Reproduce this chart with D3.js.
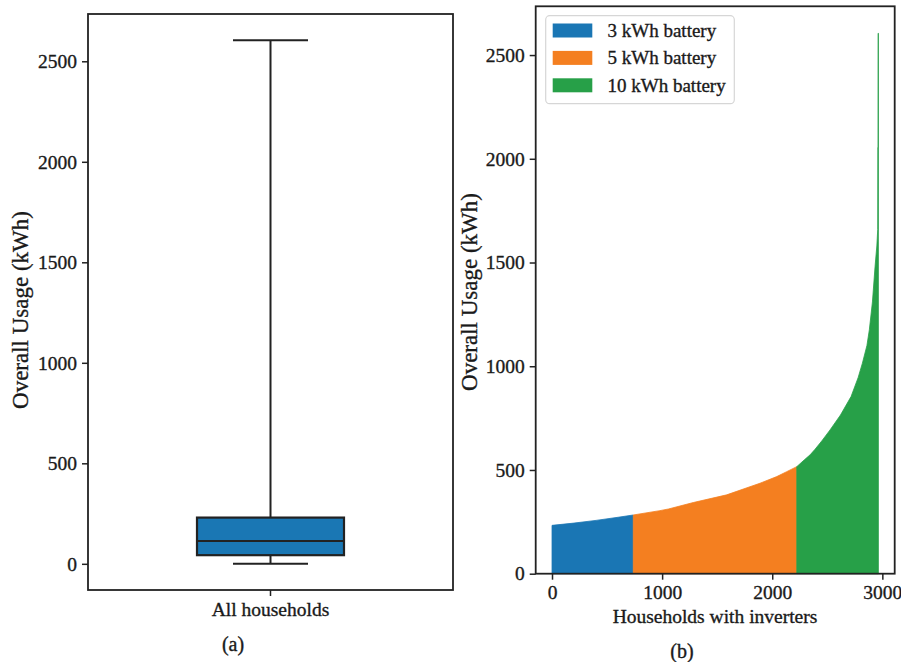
<!DOCTYPE html>
<html><head><meta charset="utf-8">
<script src="https://cdn.jsdelivr.net/npm/d3@7"></script>
<style>
body{margin:0;background:#fff;}
svg text{font-family:"Liberation Serif","Times New Roman",serif !important;fill:#1a1a1a;stroke:#1a1a1a;stroke-width:0.35px;}
</style></head>
<body><svg id="chart" width="901" height="662"></svg>
<script>
// ---- data ----
const boxCategory = ["All households"];
const boxStats = {min: 0, q1: 43, median: 113, q3: 230, max: 2605};
const yTicks = [0, 500, 1000, 1500, 2000, 2500];
const xTicksRight = [0, 1000, 2000, 3000];
const householdsTotal = 2964;
// sorted overall usage per household (index, kWh)
const curveIndex = [0, 200, 400, 600, 738, 980, 1058, 1283, 1586, 1889, 2041, 2132, 2223, 2290, 2344, 2389, 2450, 2525, 2620, 2716, 2780, 2819, 2860, 2882, 2910, 2934, 2950, 2958, 2959, 2961, 2962, 2964];
const curveValue = [233, 244, 257, 272, 283, 304, 312, 343, 380, 436, 468, 492, 516, 548, 573, 600, 640, 693, 765, 854, 945, 1015, 1100, 1176, 1310, 1482, 1580, 1659, 2054, 2054, 2605, 2605];
const seriesNames = ["3 kWh battery", "5 kWh battery", "10 kWh battery"];
const seriesBounds = [0, 738, 2223, 2964];
const seriesColors = ["#1a76b4", "#f47f20", "#27a048"];

const svg = d3.select("#chart");
const fs = 19.5;
const FF = '"Liberation Serif","Times New Roman",serif';

function styleAxis(a) {
  a.attr("font-family", FF);
  a.select(".domain").remove();
  a.selectAll("line").attr("stroke", "#222").attr("stroke-width", 1.5);
  a.selectAll("text").style("font-family", FF).attr("font-size", fs).attr("fill", "#1a1a1a");
}

// ---------- panel (a) ----------
{
  const L = 88, R = 453, T = 14, B = 590;
  const y = d3.scaleLinear().domain([-130.25, 2735.25]).range([B, T]);
  const x = d3.scaleBand().domain(boxCategory).range([L, R]);
  const g = svg.append("g");
  const cx = x(boxCategory[0]) + x.bandwidth() / 2;
  const bw = 147, cw = 75;
  g.append("line").attr("x1", cx).attr("x2", cx).attr("y1", y(boxStats.q3)).attr("y2", y(boxStats.max)).attr("stroke", "#222").attr("stroke-width", 2);
  g.append("line").attr("x1", cx).attr("x2", cx).attr("y1", y(boxStats.q1)).attr("y2", y(boxStats.min)).attr("stroke", "#222").attr("stroke-width", 2);
  g.append("line").attr("x1", cx - cw/2).attr("x2", cx + cw/2).attr("y1", y(boxStats.max)).attr("y2", y(boxStats.max)).attr("stroke", "#222").attr("stroke-width", 2);
  g.append("line").attr("x1", cx - cw/2).attr("x2", cx + cw/2).attr("y1", y(boxStats.min)).attr("y2", y(boxStats.min)).attr("stroke", "#222").attr("stroke-width", 2);
  g.append("rect").attr("x", cx - bw/2).attr("y", y(boxStats.q3)).attr("width", bw).attr("height", y(boxStats.q1) - y(boxStats.q3))
    .attr("fill", "#1a77b4").attr("stroke", "#222").attr("stroke-width", 2.2);
  g.append("line").attr("x1", cx - bw/2).attr("x2", cx + bw/2).attr("y1", y(boxStats.median)).attr("y2", y(boxStats.median)).attr("stroke", "#222").attr("stroke-width", 2);
  g.append("rect").attr("x", L).attr("y", T).attr("width", R - L).attr("height", B - T).attr("fill", "none").attr("stroke", "#222").attr("stroke-width", 1.8);
  const ya = g.append("g").attr("transform", `translate(${L},0)`).call(d3.axisLeft(y).tickValues(yTicks).tickSize(6).tickPadding(5).tickFormat(d3.format("d")));
  styleAxis(ya);
  const xa = g.append("g").attr("transform", `translate(0,${B})`).call(d3.axisBottom(x).tickSize(6).tickPadding(6));
  styleAxis(xa);
  g.append("text").attr("transform", `translate(28,${(T + B) / 2 + 8}) rotate(-90)`).attr("text-anchor", "middle").attr("font-size", 23).text("Overall Usage (kWh)");
  g.append("text").attr("x", 233).attr("y", 651).attr("text-anchor", "middle").attr("font-size", 20).text("(a)");
}

// ---------- panel (b) ----------
{
  const L = 535.7, R = 894.7, T = 6.3, B = 573.7;
  const pad = householdsTotal * 0.05;
  const x = d3.scaleLinear().domain([-pad, householdsTotal + pad]).range([L, R]);
  const y = d3.scaleLinear().domain([0, 2735]).range([B, T]);
  const g = svg.append("g");
  const pts = curveIndex.map((d, i) => ({i: d, v: curveValue[i]}));
  const area = d3.area().x(d => x(d.i)).y0(y(0)).y1(d => y(d.v));
  seriesNames.forEach((name, k) => {
    const lo = seriesBounds[k], hi = seriesBounds[k + 1];
    const seg = pts.filter(p => p.i >= lo && p.i <= hi);
    g.append("path").attr("d", area(seg)).attr("fill", seriesColors[k]).attr("stroke", seriesColors[k]).attr("stroke-width", 0.8);
  });
  g.append("rect").attr("x", L).attr("y", T).attr("width", R - L).attr("height", B - T).attr("fill", "none").attr("stroke", "#222").attr("stroke-width", 1.8);
  const ya = g.append("g").attr("transform", `translate(${L},0)`).call(d3.axisLeft(y).tickValues(yTicks).tickSize(6).tickPadding(5).tickFormat(d3.format("d")));
  styleAxis(ya);
  const xa = g.append("g").attr("transform", `translate(0,${B})`).call(d3.axisBottom(x).tickValues(xTicksRight).tickSize(6).tickPadding(5).tickFormat(d3.format("d")));
  styleAxis(xa);
  g.append("text").attr("x", 715).attr("y", 623).attr("text-anchor", "middle").attr("font-size", fs).text("Households with inverters");
  g.append("text").attr("transform", `translate(477,${(T + B) / 2 + 2}) rotate(-90)`).attr("text-anchor", "middle").attr("font-size", 23).text("Overall Usage (kWh)");
  g.append("text").attr("x", 682).attr("y", 658).attr("text-anchor", "middle").attr("font-size", 20).text("(b)");
  const lg = g.append("g");
  lg.append("rect").attr("x", 545.7).attr("y", 15.7).attr("width", 188.6).attr("height", 88).attr("rx", 4)
    .attr("fill", "#fff").attr("fill-opacity", 0.8).attr("stroke", "#d6d6d6").attr("stroke-width", 1.2);
  seriesNames.forEach((name, k) => {
    const cy = 30.5 + k * 27.4;
    lg.append("rect").attr("x", 552.7).attr("y", cy - 7).attr("width", 39.6).attr("height", 14).attr("fill", seriesColors[k]);
    lg.append("text").attr("x", 607.5).attr("y", cy + 6.5).attr("font-size", 19).text(name);
  });
}
</script></body></html>
